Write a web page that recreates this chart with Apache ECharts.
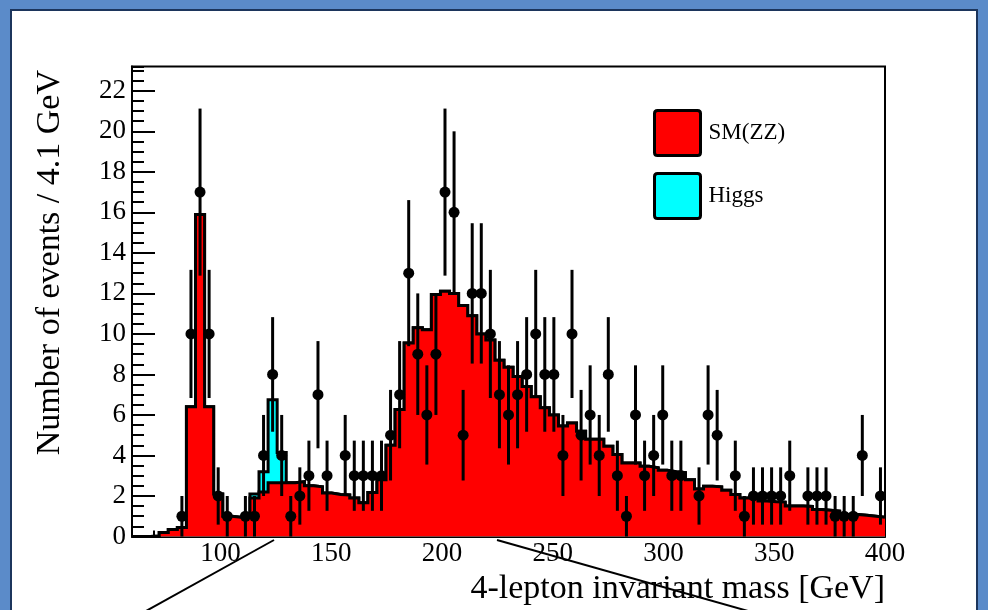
<!DOCTYPE html>
<html>
<head>
<meta charset="utf-8">
<script src="https://cdn.jsdelivr.net/npm/echarts@6/dist/echarts.min.js"></script>
<style>
html,body{margin:0;padding:0;width:988px;height:610px;overflow:hidden;background:#5b8bc9;}
#panel{position:absolute;left:10px;top:9px;width:968px;height:640px;background:#ffffff;border:2px solid #1c355c;box-sizing:border-box;}
#chart{position:absolute;left:0;top:0;width:988px;height:610px;}
</style>
</head>
<body>
<div id="panel"></div>
<div id="chart"></div>
<script>
// ---- axis range / binning ----
const xMin = 60;
const xMax = 400;
const nBins = 83;            // 4.1 GeV bins
const xTickLabels = [100, 150, 200, 250, 300, 350, 400];
const yTickLabels = [0, 2, 4, 6, 8, 10, 12, 14, 16, 18, 20, 22];

// ---- SM(ZZ) expectation per bin ----
const smValues = [
  0, 0, 0.03, 0.2, 0.35, 0.45, 6.4, 15.9, 6.4, 2.1,
  1.0, 0.95, 1.0, 1.9, 2.2, 2.65, 2.65, 2.65, 2.7, 2.5,
  2.45, 2.15, 2.07, 2.05, 1.9, 1.67, 2.17, 2.8, 4.5, 6.27,
  9.55, 10.3, 10.2, 11.94, 12.1, 12.0, 11.4, 10.9, 10.0, 9.7,
  8.7, 8.35, 7.9, 7.4, 6.9, 6.35, 6.0, 5.45, 5.6, 5.2,
  4.8, 4.8, 4.45, 4.05, 3.63, 3.63, 3.47, 3.39, 3.27, 3.2,
  3.15, 2.8, 2.35, 2.48, 2.45, 2.28, 2.07, 1.9, 1.98, 1.75,
  1.72, 1.7, 1.5, 1.5, 1.48, 1.33, 1.3, 1.25, 1.08, 1.08,
  1.05, 1.0, 0.95
];

// ---- Higgs signal per bin (stacked on SM) ----
const higgsValues = [
  0, 0, 0, 0, 0, 0, 0, 0, 0, 0,
  0, 0, 0, 0.2, 1.0, 4.1, 1.5, 0, 0, 0,
  0, 0, 0, 0, 0, 0, 0, 0, 0, 0,
  0, 0, 0, 0, 0, 0, 0, 0, 0, 0,
  0, 0, 0, 0, 0, 0, 0, 0, 0, 0,
  0, 0, 0, 0, 0, 0, 0, 0, 0, 0,
  0, 0, 0, 0, 0, 0, 0, 0, 0, 0,
  0, 0, 0, 0, 0, 0, 0, 0, 0, 0,
  0, 0, 0
];

// ---- observed events per bin ----
const dataCounts = [
  0, 0, 0, 0, 0, 1, 10, 17, 10, 2,
  1, 0, 1, 1, 4, 8, 4, 1, 2, 3,
  7, 3, 0, 4, 3, 3, 3, 3, 5, 7,
  13, 9, 6, 9, 17, 16, 5, 12, 12, 10,
  7, 6, 7, 8, 10, 8, 8, 4, 10, 5,
  6, 4, 8, 3, 1, 6, 3, 4, 6, 3,
  3, 0, 2, 6, 5, 0, 3, 1, 2, 2,
  2, 2, 3, 0, 2, 2, 2, 1, 1, 1,
  4, 0, 2
];

const binW = (xMax - xMin) / nBins;
function stepData(vals) {
  const out = vals.map((v, i) => [xMin + i * binW, v]);
  out.push([xMax, vals[vals.length - 1]]);
  return out;
}
const totalValues = smValues.map((v, i) => v + higgsValues[i]);
const points = [];
dataCounts.forEach((n, i) => { if (n > 0) points.push([xMin + (i + 0.5) * binW, n]); });

const serif = '"Liberation Serif", "DejaVu Serif", serif';
const chart = echarts.init(document.getElementById('chart'), null, {renderer: 'canvas'});

const boxIcon = 'path://M3,0 L43,0 Q46,0 46,3 L46,42 Q46,45 43,45 L3,45 Q0,45 0,42 L0,3 Q0,0 3,0 Z';

const option = {
  animation: false,
  backgroundColor: 'transparent',
  grid: {left: 132, right: 103, top: 66.5, bottom: 73.5, show: true, borderColor: '#000', borderWidth: 2, backgroundColor: 'transparent'},
  legend: {
    orient: 'vertical', left: 648, top: 104, itemWidth: 46, itemHeight: 45, itemGap: 15,
    icon: boxIcon, selectedMode: false,
    data: [
      {name: 'SM(ZZ)', itemStyle: {color: '#ff0000', borderColor: '#000', borderWidth: 3}},
      {name: 'Higgs', itemStyle: {color: '#00ffff', borderColor: '#000', borderWidth: 3}}
    ],
    textStyle: {fontFamily: serif, fontSize: 23, color: '#000', padding: [0, 0, 0, 3]}
  },
  xAxis: [
    {
      type: 'value', min: xMin, max: xMax, interval: 10, position: 'bottom',
      axisLine: {show: true, lineStyle: {color: '#000', width: 2}},
      axisTick: {show: true, inside: true, length: 6, lineStyle: {color: '#000', width: 2}},
      axisLabel: {show: false}, splitLine: {show: false}
    },
    {
      type: 'value', min: xMin, max: xMax, position: 'bottom',
      axisLine: {show: false},
      axisTick: {show: true, inside: true, length: 13, customValues: xTickLabels, lineStyle: {color: '#000', width: 2}},
      axisLabel: {show: true, customValues: xTickLabels, fontFamily: serif, fontSize: 27, color: '#000', margin: 4},
      splitLine: {show: false}
    }
  ],
  yAxis: [
    {
      type: 'value', min: 0, max: 23.2, interval: 0.5, position: 'left',
      axisLine: {show: true, lineStyle: {color: '#000', width: 2}},
      axisTick: {show: true, inside: true, length: 12, lineStyle: {color: '#000', width: 2}},
      axisLabel: {show: false}, splitLine: {show: false}
    },
    {
      type: 'value', min: 0, max: 23.2, position: 'left',
      axisLine: {show: false},
      axisTick: {show: true, inside: true, length: 23, customValues: yTickLabels, lineStyle: {color: '#000', width: 2}},
      axisLabel: {show: true, customValues: yTickLabels, fontFamily: serif, fontSize: 27, color: '#000', margin: 6},
      splitLine: {show: false}
    }
  ],
  series: [
    {
      name: 'Higgs', type: 'line', step: 'end', data: stepData(totalValues),
      showSymbol: false, symbol: 'none', color: '#00ffff',
      lineStyle: {color: '#000', width: 3, join: 'miter'},
      areaStyle: {color: '#00ffff', opacity: 1}, z: 2
    },
    {
      name: 'SM(ZZ)', type: 'line', step: 'end', data: stepData(smValues),
      showSymbol: false, symbol: 'none', color: '#ff0000',
      lineStyle: {color: '#000', width: 3, join: 'miter'},
      areaStyle: {color: '#ff0000', opacity: 1}, z: 3
    },
    {
      name: 'errors', type: 'custom', data: points, z: 4,
      renderItem: function (params, api) {
        const x = api.value(0), v = api.value(1), e = Math.sqrt(v);
        const p1 = api.coord([x, v - e]);
        const p2 = api.coord([x, v + e]);
        return {type: 'line', shape: {x1: p1[0], y1: p1[1], x2: p2[0], y2: p2[1]}, style: {stroke: '#000', lineWidth: 3}};
      }
    },
    {
      name: 'Data', type: 'scatter', data: points, symbol: 'circle', symbolSize: 11,
      itemStyle: {color: '#000', opacity: 1}, z: 5
    }
  ],
  graphic: [
    {type: 'text', x: 50, y: 70, rotation: Math.PI / 2,
      style: {text: 'Number of events / 4.1 GeV', font: '34px ' + serif, fill: '#000', align: 'right', verticalAlign: 'middle'}},
    {type: 'text', x: 885, y: 589,
      style: {text: '4-lepton invariant mass [GeV]', font: '34px ' + serif, fill: '#000', align: 'right', verticalAlign: 'middle'}},
    {type: 'line', shape: {x1: 146, y1: 611, x2: 274, y2: 540}, style: {stroke: '#000', lineWidth: 2}},
    {type: 'line', shape: {x1: 497, y1: 540, x2: 748, y2: 611}, style: {stroke: '#000', lineWidth: 2}}
  ]
};
chart.setOption(option);
</script>
</body>
</html>
